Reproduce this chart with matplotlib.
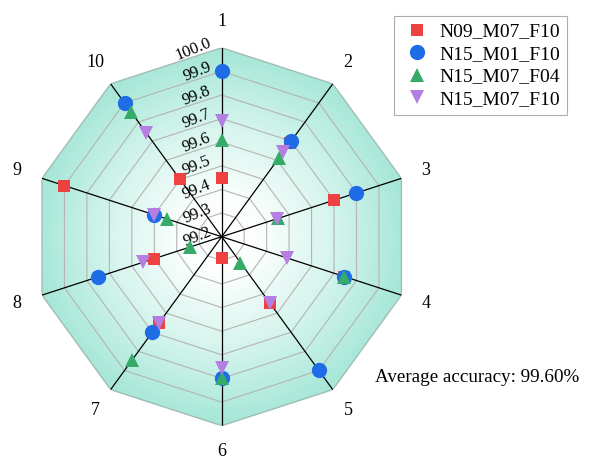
import numpy as np
import matplotlib
matplotlib.use("Agg")
import matplotlib.pyplot as plt
from matplotlib.patches import Polygon
from matplotlib.colors import LinearSegmentedColormap

plt.rcParams['font.family'] = ['Liberation Serif', 'DejaVu Serif']

# ---------------------------------------------------------------
# data
axis_labels = ['1', '2', '3', '4', '5', '6', '7', '8', '9', '10']
series_names = ['N09_M07_F10', 'N15_M01_F10', 'N15_M07_F04', 'N15_M07_F10']
n09_m07_f10 = [99.45, 99.69, 99.70, 99.745, 99.545, 99.29, 99.65, 99.50, 99.90, 99.50]
n15_m01_f10 = [99.90, 99.70, 99.80, 99.745, 99.90, 99.80, 99.70, 99.75, 99.50, 99.90]
n15_m07_f04 = [99.61, 99.61, 99.45, 99.745, 99.335, 99.80, 99.845, 99.34, 99.445, 99.855]
n15_m07_f10 = [99.69, 99.645, 99.445, 99.49, 99.545, 99.755, 99.65, 99.55, 99.50, 99.745]
ring_values = [99.2, 99.3, 99.4, 99.5, 99.6, 99.7, 99.8, 99.9, 100.0]
avg_text = 'Average accuracy: 99.60%'

R_MIN, R_MAX = 99.2, 100.0

# ---------------------------------------------------------------
fig = plt.figure(figsize=(5.9, 4.66), dpi=100)
ax = fig.add_axes([0.0554, 0.0865, 0.6407, 0.811], projection='polar')
ax.set_theta_offset(np.pi / 2)
ax.set_theta_direction(-1)
ax.set_ylim(R_MIN, R_MAX)
ax.set_xticks([])
ax.set_yticks([])
ax.grid(False)
ax.spines['polar'].set_visible(False)
ax.patch.set_visible(False)

n = len(axis_labels)
angles = np.arange(n) * 2 * np.pi / n
closed = np.append(angles, angles[0])

# radial gradient background clipped to the decagon
cmap = LinearSegmentedColormap.from_list(
    'tealfade', [(0.0, '#ffffff'), (0.2, '#fbfefd'), (0.55, '#d9f5ee'), (1.0, '#a4e6d6')])
th = np.linspace(0, 2 * np.pi, 361)
rr = np.linspace(R_MIN, R_MAX, 81)
TH, RR = np.meshgrid(th, rr)
C = ((RR[:-1, :-1] + RR[1:, 1:]) / 2 - R_MIN) / (R_MAX - R_MIN)
mesh = ax.pcolormesh(TH, RR, C, cmap=cmap, vmin=0, vmax=1, shading='flat', zorder=0)
clip = Polygon(np.column_stack([angles, np.full(n, R_MAX)]), closed=True,
               transform=ax.transData, facecolor='none', edgecolor='none')
ax.add_patch(clip)
mesh.set_clip_path(clip)

# decagon rings
for v in ring_values[1:-1]:
    ax.plot(closed, [v] * (n + 1), color='#b4b4b4', lw=0.8, zorder=1)
ax.plot(closed, [R_MAX] * (n + 1), color='#a2bdb6', lw=1.0, zorder=1)

# spokes
for a in angles:
    ax.plot([a, a], [R_MIN, R_MAX], color='black', lw=0.9, zorder=2)

# radial tick labels
for v in ring_values:
    ax.annotate(f'{v:.1f}', xy=(0, v), xytext=(-7, 1), textcoords='offset points',
                rotation=22, rotation_mode='anchor', ha='right', va='baseline',
                fontsize=12, zorder=3)

# axis labels
for a, lab in zip(angles, axis_labels):
    ax.text(a, R_MAX + 0.11, lab, ha='center', va='center', fontsize=13)

# series markers
styles = [('s', '#ee4242', 9), ('o', '#1f6de6', 11), ('^', '#36aa68', 10.5), ('v', '#b47ee2', 10.5)]
all_series = [n09_m07_f10, n15_m01_f10, n15_m07_f04, n15_m07_f10]
for name, vals, (mk, col, ms) in zip(series_names, all_series, styles):
    ax.plot(angles, vals, linestyle='none', marker=mk, color=col, markersize=ms,
            markeredgewidth=0, label=name, zorder=4, clip_on=False)

leg = fig.legend(loc='upper right', bbox_to_anchor=(567 / 590, 1 - 16 / 466),
                 bbox_transform=fig.transFigure, fontsize=14, frameon=True,
                 fancybox=False, edgecolor='#999999', handlelength=1.65,
                 handletextpad=0.35, labelspacing=0.25, borderpad=0.35,
                 borderaxespad=0)
leg.get_frame().set_linewidth(0.8)

fig.text(375 / 590, 1 - 378 / 466, avg_text, ha='left', va='center', fontsize=13.7)

fig.savefig('out.png', dpi=100)
